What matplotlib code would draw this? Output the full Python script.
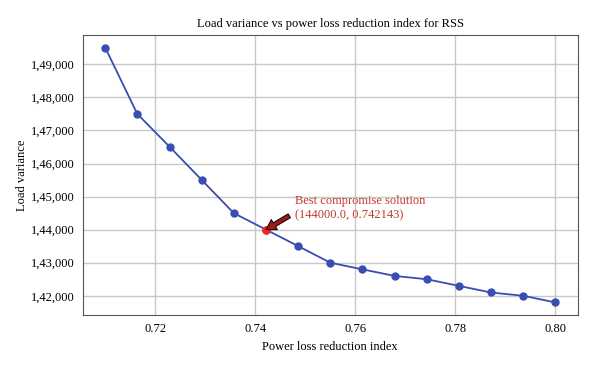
import matplotlib
matplotlib.use('Agg')
import matplotlib.pyplot as plt
from matplotlib.ticker import FuncFormatter

plt.rcParams['font.family'] = ['Liberation Serif', 'DejaVu Serif']

# power loss reduction index (x) and load variance (y)
plri = [0.7100, 0.7164, 0.7229, 0.7293, 0.7357, 0.742143, 0.7486, 0.7550,
        0.7614, 0.7679, 0.7743, 0.7807, 0.7871, 0.7936, 0.8000]
load_var = [149500, 147500, 146500, 145500, 144500, 144000, 143500, 143000,
            142800, 142600, 142500, 142300, 142100, 142000, 141800]
best_x = 0.742143
best_y = 144000
best_label = 'Best compromise solution\n(144000.0, 0.742143)'


def indian(v, pos):
    s = str(int(round(v)))
    last3 = s[-3:]
    rest = s[:-3]
    parts = []
    while len(rest) > 2:
        parts.insert(0, rest[-2:])
        rest = rest[:-2]
    if rest:
        parts.insert(0, rest)
    return ','.join(parts + [last3])


fig = plt.figure(figsize=(6, 3.69), dpi=100)
ax = fig.add_axes([0.138, 0.146, 0.825, 0.759])

ax.plot(plri, load_var, '-o', color='#3a4db0', lw=1.3, ms=5, zorder=3)
ax.plot([best_x], [best_y], 'o', color='#ff2020', ms=5, zorder=4)

ax.annotate('', xy=(best_x, best_y), xytext=(0.7468, 144420),
            arrowprops=dict(facecolor='#a01818', edgecolor='black', lw=0.7,
                            width=3.2, headwidth=8.5, headlength=7, shrink=0.0),
            zorder=5)
ax.text(0.748, 144650, best_label, color='#c0392b', fontsize=9,
        va='center', ha='left', linespacing=1.3)

ax.set_xticks([0.72, 0.74, 0.76, 0.78, 0.80])
ax.set_yticks([142000, 143000, 144000, 145000, 146000, 147000, 148000, 149000])
ax.yaxis.set_major_formatter(FuncFormatter(indian))
ax.grid(True, color='#c8c8c8', lw=1)
ax.set_axisbelow(True)
ax.tick_params(labelsize=9, length=0, pad=6)
for s in ax.spines.values():
    s.set_color('#555555')

ax.set_title('Load variance vs power loss reduction index for RSS', fontsize=9)
ax.set_xlabel('Power loss reduction index', fontsize=9)
ax.set_ylabel('Load variance', fontsize=9, labelpad=2)

fig.savefig('out.png', dpi=100)
